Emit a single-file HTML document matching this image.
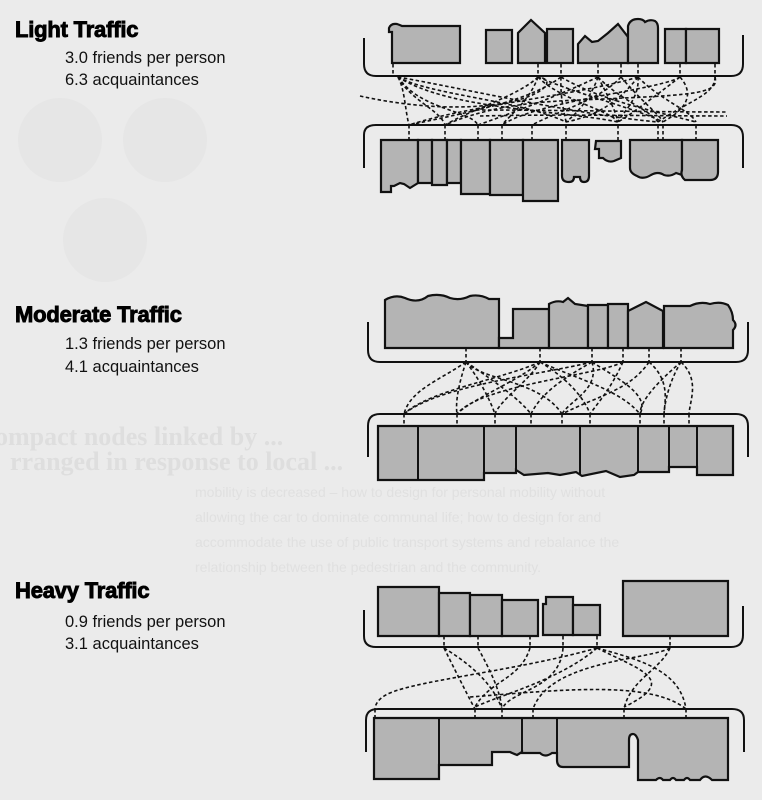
<!DOCTYPE html>
<html><head><meta charset="utf-8"><style>
html,body{margin:0;padding:0;background:#ebebeb;}
svg{display:block}
.t{font-family:"Liberation Sans",sans-serif;font-weight:bold;font-size:22px;fill:#000;stroke:#000;stroke-width:0.9;letter-spacing:-0.2px}
.s{font-family:"Liberation Sans",sans-serif;font-size:16.5px;fill:#111}
.g{font-family:"Liberation Serif",serif;font-weight:bold;font-size:26px;fill:#dedede}
.gs{font-family:"Liberation Sans",sans-serif;font-size:14px;fill:#e0e0e0}
.b{fill:#b4b4b4;stroke:#111;stroke-width:2.2;stroke-linejoin:miter}
.br{fill:none;stroke:#111;stroke-width:2}
.d{fill:none;stroke:#111;stroke-width:1.6;stroke-dasharray:3.5 2.5}
</style></head><body>
<svg width="762" height="800" viewBox="0 0 762 800" xmlns="http://www.w3.org/2000/svg">
<rect width="762" height="800" fill="#ebebeb"/>
<circle cx="60" cy="140" r="42" fill="#e6e6e6"/>
<circle cx="165" cy="140" r="42" fill="#e6e6e6"/>
<circle cx="105" cy="240" r="42" fill="#e6e6e6"/>
<text class="g" x="-5" y="445">ompact nodes linked by ...</text>
<text class="g" x="10" y="470">rranged in response to local ...</text>
<text class="gs" x="195" y="497">mobility is decreased – how to design for personal mobility without</text>
<text class="gs" x="195" y="522">allowing the car to dominate communal life; how to design for and</text>
<text class="gs" x="195" y="547">accommodate the use of public transport systems and rebalance the</text>
<text class="gs" x="195" y="572">relationship between the pedestrian and the community.</text>

<text class="t" x="15" y="37">Light Traffic</text>
<text class="s" x="65" y="63">3.0 friends per person</text>
<text class="s" x="65" y="85">6.3 acquaintances</text>
<text class="t" x="15" y="322">Moderate Traffic</text>
<text class="s" x="65" y="349">1.3 friends per person</text>
<text class="s" x="65" y="372">4.1 acquaintances</text>
<text class="t" x="15" y="598">Heavy Traffic</text>
<text class="s" x="65" y="627">0.9 friends per person</text>
<text class="s" x="65" y="649">3.1 acquaintances</text>

<!-- ===== LIGHT ===== -->
<path class="br" d="M364 38 V64 Q364 76 376 76 H731 Q743 76 743 64 V35"/>
<path class="b" d="M392 63 V32 H389 V28 Q391 23 397 24 Q400 25 402 26 H460 V63 Z"/>
<path class="b" d="M486 63 V30 H512 V63 Z"/>
<path class="b" d="M518 63 V33 L531 20 L545 33 V63 Z"/>
<path class="b" d="M547 63 V29 H573 V63 Z"/>
<path class="b" d="M578 63 V44 L585 36 L592 42 L598 41 L608 33 L618 24 L628 37 V63 Z"/>
<path class="b" d="M628 63 V26 Q630 19 638 19 Q643 19 645 22 Q650 19 655 21 Q658 23 658 28 V63 Z"/>
<path class="b" d="M665 63 V29 H686 V63 Z"/>
<path class="b" d="M686 63 V29 H719 V63 Z"/>
<path class="br" d="M364 168 V135 Q364 125 376 125 H731 Q743 125 743 137 V168"/>
<path class="b" d="M381 140 H418 V183 L410 188 L404 184 L400 183 L394 186 L391 186 V192 H381 Z"/>
<path class="b" d="M418 140 H432 V183 H418 Z"/>
<path class="b" d="M432 140 H447 V185 H432 Z"/>
<path class="b" d="M447 140 H461 V183 H447 Z"/>
<path class="b" d="M461 140 H490 V194 H461 Z"/>
<path class="b" d="M490 140 H523 V195 H490 Z"/>
<path class="b" d="M523 140 H558 V201 H523 Z"/>
<path class="b" d="M562 140 H589 V176 Q589 182 584 182 Q580 182 580 177 H574 Q574 182 569 182 Q562 182 562 176 Z"/>
<path class="b" d="M596 141 H621 V158 L614 161 Q608 163 603 158 H599 V149 H595 Z"/>
<path class="b" d="M630 140 H682 V175 L676 173 Q670 177 664 175 Q658 171 651 175 Q643 180 637 176 Q630 173 630 168 Z"/>
<path class="b" d="M682 140 H718 V172 Q718 180 710 180 H685 Q680 176 682 170 Z"/>
<g class="d">
<path d="M393 64 V77 M538 64 V77 M561 64 V77 M598 64 V77 M621 64 V77 M638 64 V77 M680 64 V77 M715 64 V77"/>
<path d="M409 125 V140 M445 125 V140 M478 125 V140 M502 125 V140 M532 125 V140 M566 125 V140 M618 125 V140 M658 125 V140 M663 125 V140 M696 125 V140"/>
<path d="M398 77 C410 100 440 110 445 125"/>
<path d="M398 77 C420 110 470 110 478 125"/>
<path d="M398 77 C430 95 520 100 566 122"/>
<path d="M398 77 C450 110 560 110 618 122"/>
<path d="M398 77 C470 90 580 115 658 122"/>
<path d="M398 77 C405 90 405 110 409 125"/>
<path d="M360 96 C400 105 450 110 490 105 C540 100 560 80 538 77"/>
<path d="M538 77 C520 95 470 110 445 125"/>
<path d="M538 77 C530 100 510 115 502 125"/>
<path d="M538 77 C560 100 610 110 618 122"/>
<path d="M538 77 C580 95 640 110 663 122"/>
<path d="M561 77 C560 100 565 115 566 122"/>
<path d="M561 77 C530 100 480 110 409 125"/>
<path d="M561 77 C600 100 650 110 696 122"/>
<path d="M598 77 C590 100 575 115 566 122"/>
<path d="M598 77 C560 95 520 110 478 125"/>
<path d="M598 77 C620 100 650 110 658 122"/>
<path d="M598 77 C610 100 615 110 618 122"/>
<path d="M621 77 C600 100 560 110 532 125"/>
<path d="M621 77 C640 100 660 115 663 122"/>
<path d="M638 77 C620 100 600 115 566 122"/>
<path d="M638 77 C580 95 470 105 409 125"/>
<path d="M638 77 C660 100 690 110 696 122"/>
<path d="M638 77 C640 100 620 115 618 122"/>
<path d="M680 77 C650 100 630 115 618 122"/>
<path d="M680 77 C660 90 540 100 502 125"/>
<path d="M680 77 C700 100 675 115 663 122"/>
<path d="M715 77 C715 95 690 100 658 122"/>
<path d="M715 77 C720 95 690 95 580 100 C520 102 480 110 445 125"/>
<path d="M470 110 C560 110 650 112 727 112"/>
<path d="M480 116 C560 114 650 116 727 116"/>
</g>

<!-- ===== MODERATE ===== -->
<path class="br" d="M368 322 V350 Q368 362 380 362 H736 Q748 362 748 350 V322"/>
<path class="b" d="M385 348 V300 Q395 294 405 298 Q418 304 428 296 Q440 293 450 298 Q460 301 470 296 Q480 294 489 299 H499 V348 Z"/>
<path class="b" d="M499 348 V338 H513 V309 H549 V348 Z"/>
<path class="b" d="M549 348 V304 Q556 300 563 302 L568 298 L575 304 L588 306 V348 Z"/>
<path class="b" d="M588 348 V305 H608 V348 Z"/>
<path class="b" d="M608 348 V304 H628 V348 Z"/>
<path class="b" d="M628 348 V311 L646 302 L663 311 V348 Z"/>
<path class="b" d="M664 348 V306 H690 Q700 301 710 304 Q720 301 728 305 Q733 312 733 320 Q738 325 733 330 V348 Z"/>
<path class="br" d="M368 457 V426 Q368 414 380 414 H736 Q748 414 748 426 V457"/>
<path class="b" d="M378 426 H733 V475 H697 V467 H669 V472 H638 L634 475 L620 477 L606 471 L582 476 L576 472 L560 475 L548 473 L524 475 L516 470 V473 H484 V480 H378 Z"/>
<path class="br" d="M418 426 V480 M484 426 V473 M516 426 V473 M580 426 V475 M638 426 V472 M669 426 V468 M697 426 V475" style="stroke-width:2"/>
<g class="d">
<path d="M466 348 V362 M540 348 V362 M592 348 V362 M623 348 V362 M649 348 V362 M681 348 V362"/>
<path d="M404 414 V426 M457 414 V426 M495 414 V426 M531 414 V426 M562 414 V426 M590 414 V426 M640 414 V426 M664 414 V426 M689 414 V426"/>
<path d="M466 362 C440 380 410 390 404 414"/>
<path d="M466 362 C460 380 455 400 457 414"/>
<path d="M466 362 C480 380 490 400 495 414"/>
<path d="M466 362 C500 385 520 400 531 414"/>
<path d="M466 362 C480 380 540 380 562 414"/>
<path d="M540 362 C500 380 430 390 404 414"/>
<path d="M540 362 C520 380 470 400 457 414"/>
<path d="M540 362 C530 380 500 400 495 414"/>
<path d="M540 362 C570 380 585 400 590 414"/>
<path d="M540 362 C580 380 620 390 640 414"/>
<path d="M592 362 C540 375 440 385 404 414"/>
<path d="M592 362 C560 380 540 395 531 414"/>
<path d="M592 362 C600 390 570 400 562 414"/>
<path d="M592 362 C620 380 650 395 640 414"/>
<path d="M623 362 C610 390 600 400 590 414"/>
<path d="M623 362 C600 375 480 385 457 414"/>
<path d="M649 362 C670 380 665 400 664 414"/>
<path d="M649 362 C630 390 600 395 562 414"/>
<path d="M681 362 C670 380 665 400 664 414"/>
<path d="M681 362 C700 380 690 400 689 414"/>
<path d="M681 362 C660 380 640 400 640 414"/>
</g>

<!-- ===== HEAVY ===== -->
<path class="br" d="M364 610 V636 Q364 647 376 647 H731 Q743 647 743 635 V606"/>
<path class="b" d="M378 636 V587 H439 V636 Z"/>
<path class="b" d="M439 636 V593 H470 V636 Z"/>
<path class="b" d="M470 636 V595 H502 V636 Z"/>
<path class="b" d="M502 636 V600 H538 V636 Z"/>
<path class="b" d="M543 635 V604 H546 V597 H573 V635 Z"/>
<path class="b" d="M573 635 V605 H600 V635 Z"/>
<path class="b" d="M623 636 V581 H728 V636 Z"/>
<path class="br" d="M366 752 V720 Q366 709 378 709 H732 Q744 709 744 720 V752"/>
<path class="b" d="M374 718 H728 V780 L712 780 Q705 773 700 780 H690 Q687 776 684 780 H676 Q673 776 670 780 H663 Q660 776 656 780 H638 V740 Q636 734 633 734 Q629 734 629 740 V767 H563 Q557 767 557 760 V753 H552 Q545 758 540 753 H522 V752 L517 755 Q512 753 510 752 H492 V765 H439 V779 H374 Z"/>
<path class="br" d="M439 718 V765 M522 718 V753 M557 718 V760" style="stroke-width:2"/>
<g class="d">
<path d="M444 636 V648 M478 636 V648 M530 636 V648 M563 636 V648 M597 636 V648 M670 636 V648"/>
<path d="M375 709 V718 M475 709 V718 M502 709 V718 M533 709 V718 M624 709 V718 M686 709 V718"/>
<path d="M444 648 C460 680 470 700 475 709"/>
<path d="M444 648 C480 670 495 690 502 709"/>
<path d="M478 648 C490 670 500 690 502 709"/>
<path d="M530 648 C520 680 490 680 475 707"/>
<path d="M563 648 C560 690 510 690 502 709"/>
<path d="M597 648 C560 680 500 695 475 707"/>
<path d="M597 648 C640 670 680 680 624 707"/>
<path d="M597 648 C520 670 420 680 390 693 C378 698 375 705 375 709"/>
<path d="M670 648 C660 670 630 680 624 709"/>
<path d="M670 648 C650 660 550 660 533 709"/>
<path d="M470 697 C560 690 650 680 686 709"/>
<path d="M597 648 C640 660 680 670 686 709"/>
</g>
</svg>
</body></html>
